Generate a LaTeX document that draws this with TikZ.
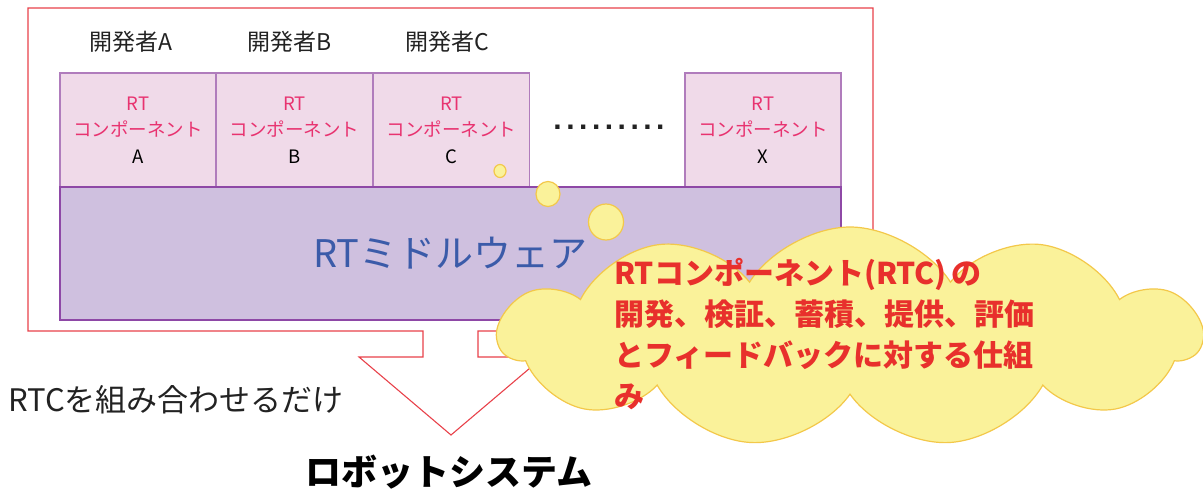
\documentclass[tikz,border=0pt]{standalone}
\usepackage{fontspec}
\setmainfont{Noto Sans CJK JP}
\newfontfamily\dotfont{Liberation Sans}[LetterSpace=15]
\usetikzlibrary{shapes.symbols}
\definecolor{redline}{HTML}{E8414A}
\definecolor{compfill}{HTML}{F0DAE9}
\definecolor{compdraw}{HTML}{B07CBC}
\definecolor{mwfill}{HTML}{CFC0DF}
\definecolor{mwdraw}{HTML}{8E48A6}
\definecolor{pinktext}{HTML}{E83370}
\definecolor{bluetext}{HTML}{3B5BA9}
\definecolor{cloudfill}{HTML}{FAF29A}
\definecolor{clouddraw}{HTML}{F3C84A}
\definecolor{cloudtext}{HTML}{E8302C}
\definecolor{darktext}{HTML}{222222}
\tikzset{
  comp/.style={draw=compdraw, fill=compfill, line width=1.2pt, minimum width=156pt, minimum height=114pt, inner sep=0pt, align=center, text=pinktext, font=\fontsize{18.5}{26.5}\selectfont},
  devlabel/.style={text=darktext, font=\fontsize{23}{26}\selectfont, inner sep=0pt},
  bubble/.style={draw=clouddraw, fill=cloudfill, line width=1.2pt},
}
\begin{document}
\begin{tikzpicture}[x=1pt,y=-1pt]
\useasboundingbox (0,0) rectangle (1203,495);
% red frame with arrow
\draw[redline, line width=1.1pt, line join=miter]
  (28,8) -- (873,8) -- (873,331) -- (478,331) -- (478,357) -- (543,357)
  -- (451,435) -- (359,357) -- (423,357) -- (423,331) -- (28,331) -- cycle;
% developer labels
\node[devlabel] (devA) at (131,42) {開発者A};
\node[devlabel] (devB) at (290,42) {開発者B};
\node[devlabel] (devC) at (447,42) {開発者C};
% components
\node[comp] (compA) at (138,130) {RT\\コンポーネント\\{\color{black}A}};
\node[comp] (compB) at (294.5,130) {RT\\コンポーネント\\{\color{black}B}};
\node[comp] (compC) at (451.5,130) {RT\\コンポーネント\\{\color{black}C}};
\node[comp] (compX) at (763,130) {RT\\コンポーネント\\{\color{black}X}};
\node[text=darktext, font=\dotfont\bfseries\fontsize{30}{32}\selectfont, inner sep=0pt] (dots) at (609,127) {.........};
% middleware
\node[draw=mwdraw, fill=mwfill, line width=1.2pt, minimum width=781pt, minimum height=133pt, inner sep=0pt,
      text=bluetext, font=\fontsize{38}{40}\selectfont] (mw) at (450.5,253.5) {\raisebox{-4pt}{RTミドルウェア}};
% thought bubbles
\draw[bubble] (500,171) ellipse [x radius=6, y radius=6.5];
\draw[bubble] (548,194) ellipse [x radius=12, y radius=12.5];
\draw[bubble] (606,222) ellipse [x radius=17.5, y radius=18];
% cloud
\node[cloud, cloud puffs=11, cloud puff arc=115, aspect=3.2, draw=clouddraw, fill=cloudfill, line width=1.2pt,
      minimum width=702pt, minimum height=220pt, inner sep=0pt] (cloud) at (850,337) {};
\node[anchor=west, align=left, text=cloudtext, font=\fontsize{30}{41}\selectfont\bfseries, inner sep=0pt] (cloudtext) at (614,334)
  {RTコンポーネント(RTC)\,の\\開発、検証、蓄積、提供、評価\\とフィードバックに対する仕組\\み};
% bottom texts
\node[anchor=west, text=darktext, font=\fontsize{31}{34}\selectfont, inner sep=0pt] (combine) at (8,400) {RTCを組み合わせるだけ};
\node[text=black, font=\fontsize{36}{40}\selectfont\bfseries, inner sep=0pt] (robot) at (449,472) {ロボットシステム};
\end{tikzpicture}
\end{document}
